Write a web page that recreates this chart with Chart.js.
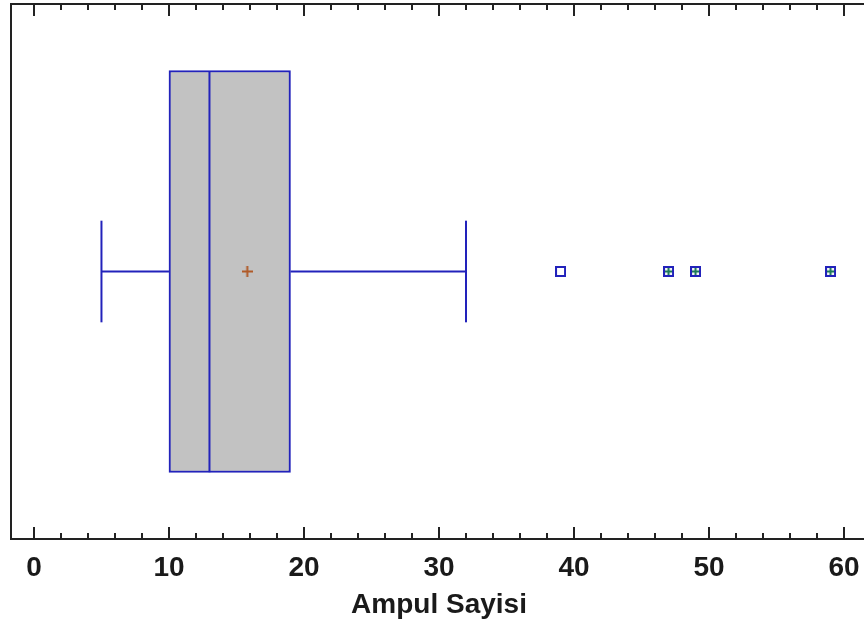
<!DOCTYPE html>
<html>
<head>
<meta charset="utf-8">
<title>Ampul Sayisi</title>
<script src="https://cdn.jsdelivr.net/npm/chart.js@4"></script>
<style>
  html, body { margin: 0; padding: 0; background: #fff; overflow: hidden; }
  canvas { display: block; }
</style>
</head>
<body>
<canvas id="theChart" width="900" height="630"></canvas>
<script>
// box plot summary
const quartiles = [10, 19];
const median = 13;
const mean = 15.8;
const whiskers = [5, 32];
const outsidePoints = [39];
const farOutsidePoints = [47, 49, 59];

// axis ticks
const majorTicks = [0, 10, 20, 30, 40, 50, 60];
const minorTicks = [2, 4, 6, 8, 12, 14, 16, 18, 22, 24, 26, 28, 32, 34, 36, 38, 42, 44, 46, 48, 52, 54, 56, 58];

const BLUE = "#2222bb";
const FONT = "'Liberation Sans', Arial, sans-serif";
const BOX_HALF = 0.75;
const CAP_HALF = 0.19;

function vline(x, h) {
  return [{ x: x, y: -h }, { x: x, y: h }];
}

// small bitmaps used as point styles (keeps the point overflow from padding the chart area)
function marker(size, draw) {
  const c = document.createElement("canvas");
  c.width = size;
  c.height = size;
  draw(c.getContext("2d"), size);
  return c;
}

const plusMark = marker(11, (g, s) => {
  g.strokeStyle = "#b05a28";
  g.lineWidth = 2;
  g.beginPath();
  g.moveTo(0, 5.5); g.lineTo(s, 5.5);
  g.moveTo(5.5, 0); g.lineTo(5.5, s);
  g.stroke();
});

const openSquare = marker(11, (g, s) => {
  g.fillStyle = "#fff";
  g.fillRect(1, 1, 9, 9);
  g.strokeStyle = BLUE;
  g.lineWidth = 2;
  g.strokeRect(1, 1, 9, 9);
});

const crossedSquare = marker(11, (g, s) => {
  g.fillStyle = "#f2f6f4";
  g.fillRect(1, 1, 9, 9);
  g.strokeStyle = "#1d7a5a";
  g.lineWidth = 2;
  g.beginPath();
  g.moveTo(2, 5.5); g.lineTo(9, 5.5);
  g.moveTo(5.5, 2); g.lineTo(5.5, 9);
  g.stroke();
  g.strokeStyle = BLUE;
  g.strokeRect(1, 1, 9, 9);
});

const lineStyle = {
  type: "line",
  borderColor: BLUE,
  borderWidth: 2,
  pointRadius: 0,
  fill: false,
  tension: 0,
};

const markerStyle = {
  type: "scatter",
  pointRadius: 1,
  pointBorderWidth: 0,
};

// frame on three sides with tick marks pointing inwards, top and bottom
const frameTicks = {
  id: "frameTicks",
  afterDraw(chart) {
    const ctx = chart.ctx;
    const area = chart.chartArea;
    const x = chart.scales.x;
    ctx.save();
    ctx.strokeStyle = "#222";
    ctx.lineWidth = 2;
    ctx.beginPath();
    ctx.moveTo(chart.width + 5, area.top);
    ctx.lineTo(area.left, area.top);
    ctx.lineTo(area.left, area.bottom);
    ctx.lineTo(chart.width + 5, area.bottom);
    ctx.stroke();
    const marks = [[majorTicks, 12], [minorTicks, 6]];
    marks.forEach(([vals, len]) => {
      vals.forEach((v) => {
        const px = Math.round(x.getPixelForValue(v));
        ctx.beginPath();
        ctx.moveTo(px, area.top);
        ctx.lineTo(px, area.top + len);
        ctx.moveTo(px, area.bottom);
        ctx.lineTo(px, area.bottom - len);
        ctx.stroke();
      });
    });
    ctx.restore();
  },
};

const config = {
  data: {
    datasets: [
      { ...markerStyle, label: "mean", data: [{ x: mean, y: 0 }], pointStyle: plusMark },
      {
        ...markerStyle,
        label: "far outside",
        data: farOutsidePoints.map((v) => ({ x: v, y: 0 })),
        pointStyle: crossedSquare,
      },
      {
        ...markerStyle,
        label: "outside",
        data: outsidePoints.map((v) => ({ x: v, y: 0 })),
        pointStyle: openSquare,
      },
      { ...lineStyle, label: "median", data: vline(median, BOX_HALF) },
      { ...lineStyle, label: "low cap", data: vline(whiskers[0], CAP_HALF) },
      { ...lineStyle, label: "high cap", data: vline(whiskers[1], CAP_HALF) },
      { ...lineStyle, label: "low whisker", data: [{ x: whiskers[0], y: 0 }, { x: quartiles[0], y: 0 }] },
      { ...lineStyle, label: "high whisker", data: [{ x: quartiles[1], y: 0 }, { x: whiskers[1], y: 0 }] },
      {
        type: "bar",
        label: "box",
        indexAxis: "y",
        order: 1,
        data: [{ x: quartiles, y: 0 }],
        backgroundColor: "#c2c2c2",
        borderColor: BLUE,
        borderWidth: 2,
        borderSkipped: false,
        barThickness: 402,
      },
    ],
  },
  options: {
    responsive: false,
    animation: false,
    events: [],
    layout: { padding: { left: 11, top: 3, right: 33, bottom: 0 } },
    plugins: {
      legend: { display: false },
      tooltip: { enabled: false },
    },
    scales: {
      x: {
        type: "linear",
        min: -1.7,
        max: 61.7,
        afterBuildTicks: (scale) => {
          scale.ticks = majorTicks.map((v) => ({ value: v }));
        },
        afterFit: (scale) => {
          scale.paddingLeft = 0;
          scale.paddingRight = 0;
          scale.height = 91;
        },
        grid: { display: false, drawTicks: false, tickLength: 0 },
        border: { display: false },
        ticks: {
          autoSkip: false,
          maxRotation: 0,
          padding: 24,
          color: "#1a1a1a",
          font: { family: FONT, size: 28, weight: "bold", lineHeight: 0.39 },
        },
        title: {
          display: true,
          text: "Ampul Sayisi",
          color: "#1a1a1a",
          padding: { top: 0, bottom: 8 },
          font: { family: FONT, size: 28, weight: "bold" },
        },
      },
      y: {
        type: "linear",
        min: -1,
        max: 1,
        offset: false,
        display: false,
      },
    },
  },
  plugins: [frameTicks],
};

const theChart = new Chart(document.getElementById("theChart"), config);
</script>
</body>
</html>
